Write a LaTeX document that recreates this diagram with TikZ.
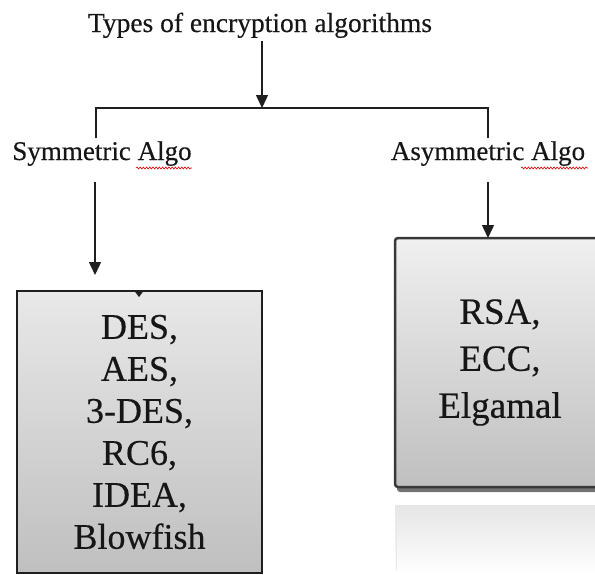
\documentclass[tikz,border=0pt]{standalone}
\usepackage{fontspec}
\setmainfont{Liberation Serif}
\newfontfamily\hv{Liberation Serif}[FakeBold=0.35]
\usetikzlibrary{arrows.meta,decorations.pathmorphing}
\definecolor{txt}{HTML}{161616}
\tikzset{
  lbl/.style={font=\hv\fontsize{27}{30}\selectfont, text=txt, anchor=base, inner sep=3pt, outer sep=0pt},
  conn/.style={line width=1.4pt, draw=black!88},
  arr/.style={conn, -{Triangle[width=12pt,length=13pt]}},
  algbox/.style={align=center, text=txt, outer sep=0pt, inner sep=0pt},
  squig/.style={draw=red!85!black, line width=0.6pt, decorate, decoration={snake, segment length=3.2pt, amplitude=1pt}},
}
\begin{document}
\begin{tikzpicture}[x=1pt,y=-1pt]
\path[use as bounding box] (0,0) rectangle (595,574);
% title and level labels
\node[lbl, font=\hv\fontsize{27.5}{30}\selectfont] (title) at (260,32) {Types of encryption algorithms};
\node[lbl] (sym) at (102,160) {Symmetric Algo};
\node[lbl] (asym) at (488,160) {Asymmetric Algo};
\draw[squig] (136,168) -- (192,168);
\draw[squig] (521,168) -- (588,168);
% junction coordinates
\coordinate (j) at (262,108);
\coordinate (bl) at (96,108);
\coordinate (br) at (488,108);
\coordinate (la) at (95,108);
% right box: reflection, shadow, box
\shade[top color=black!10, bottom color=white] (395,505) rectangle (605,574);
\draw[black!9, line width=1pt] (396,506) -- (396,570);
\fill[black!55, rounded corners=3pt] (397,242) rectangle (607,492);
\node[algbox, minimum width=210pt, minimum height=249pt, rounded corners=3pt,
      draw=black!78, line width=2.5pt, top color=black!6, bottom color=black!25,
      font=\hv\fontsize{37}{47}\selectfont] (rbox) at (500,362.5) {RSA,\\ECC,\\Elgamal};
% left box
\node[algbox, minimum width=245pt, minimum height=282pt, draw=black!88, line width=1.4pt,
      top color=black!9, bottom color=black!25, font=\hv\fontsize{36}{42}\selectfont] (lbox) at (139.5,432) {DES,\\AES,\\3-DES,\\RC6,\\IDEA,\\Blowfish};
\fill[black!88] (134.5,291) -- (143.5,291) -- (139,297) -- cycle;
% connectors
\draw[arr] (title.south -| j) -- (j);
\draw[conn] (sym.north -| bl) -- (bl) -- (br) -- (asym.north -| br);
\draw[arr, shorten <=13pt, shorten >=16pt] (sym.south -| la) -- (lbox.north -| la);
\draw[arr, shorten <=13pt] (asym.south -| br) -- (rbox.north -| br);
\end{tikzpicture}
\end{document}
